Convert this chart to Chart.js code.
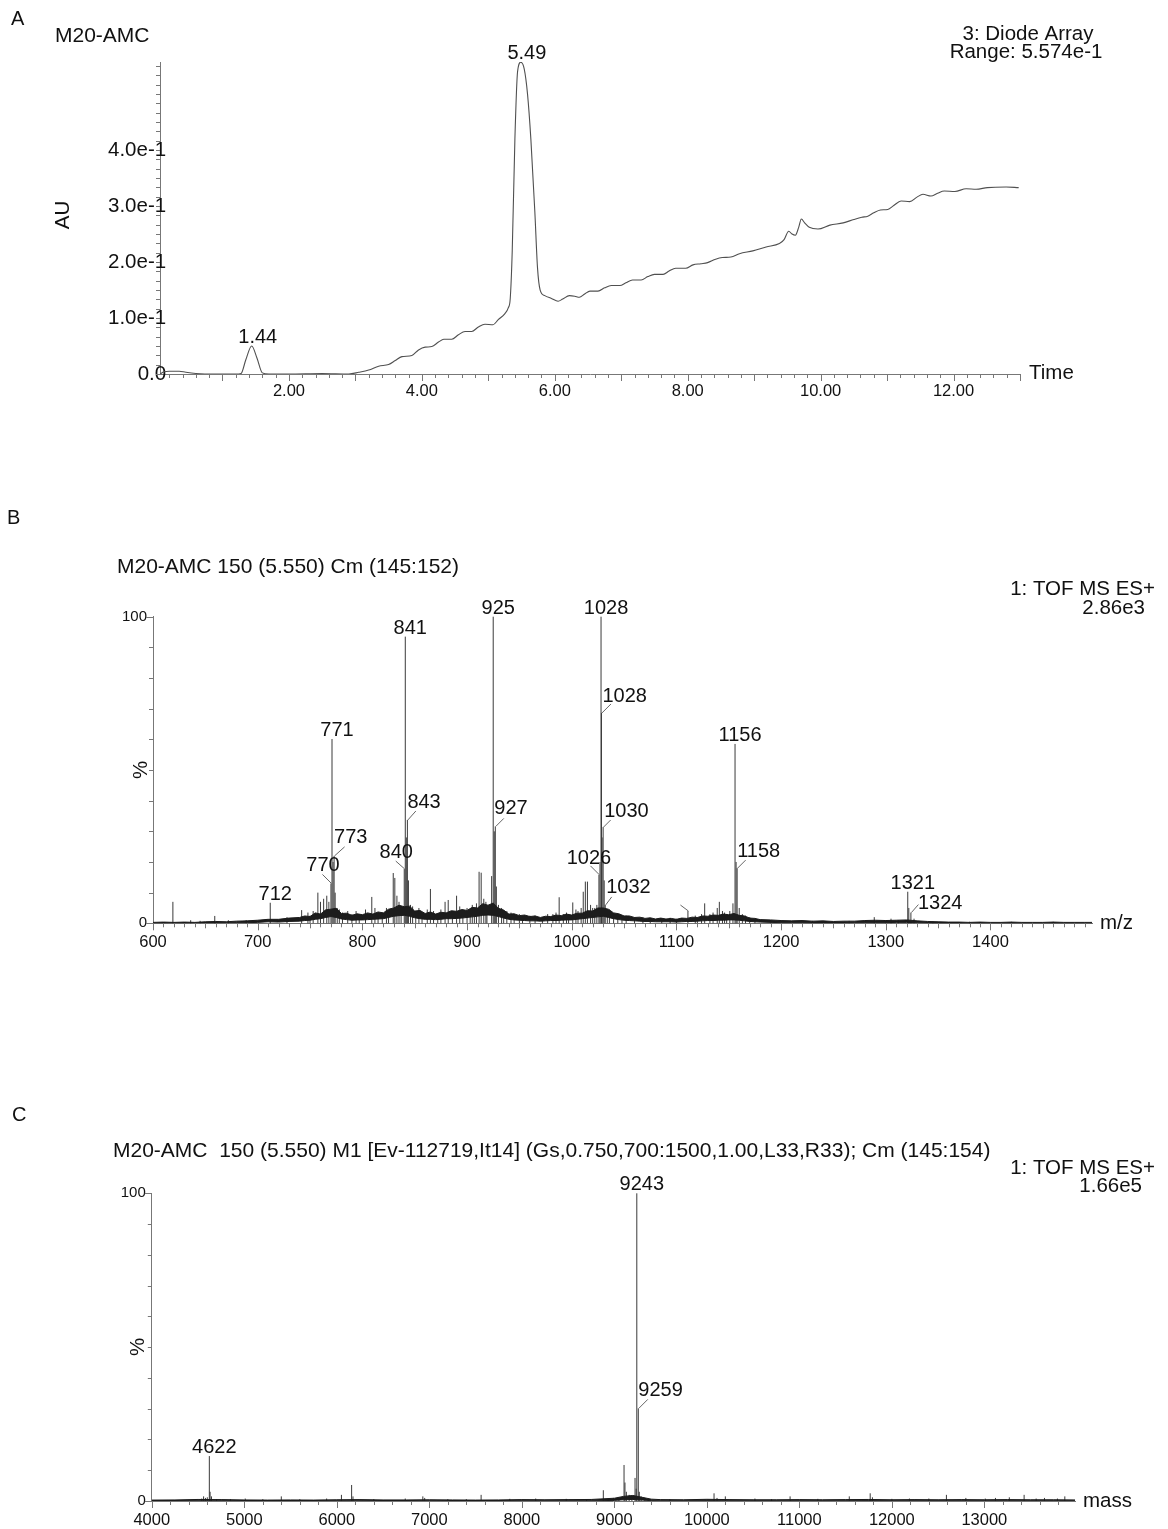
<!DOCTYPE html>
<html>
<head>
<meta charset="utf-8">
<title>M20-AMC LC-MS</title>
<script src="https://cdn.jsdelivr.net/npm/chart.js@4.4.1/dist/chart.umd.min.js"></script>
<style>
  html, body { margin: 0; padding: 0; background: #fff; }
  #page { position: relative; width: 1168px; height: 1529px; overflow: hidden; background: #fff; }
  #page canvas { position: absolute; left: 0; display: block; }
</style>
</head>
<body>
<div id="page">
  <canvas id="chartA" width="1168" height="430" style="top:0px"></canvas>
  <canvas id="chartB" width="1168" height="535" style="top:430px"></canvas>
  <canvas id="chartC" width="1168" height="600" style="top:965px"></canvas>
</div>
<script>
// ---------- Panel A: diode-array chromatogram ----------
const rtMin = [0.06,0.12,0.20,0.35,0.45,0.60,0.90,1.20,1.28,1.35,
  1.44,1.52,1.60,1.70,2.00,2.50,2.90,3.05,3.20,3.35,
  3.50,3.60,3.70,3.85,3.95,4.05,4.15,4.25,4.33,4.45,
  4.55,4.65,4.75,4.85,4.95,5.07,5.15,5.25,5.30,5.33,
  5.36,5.40,5.44,5.49,5.54,5.59,5.64,5.70,5.74,5.78,
  5.85,5.95,6.05,6.12,6.22,6.30,6.37,6.45,6.53,6.65,
  6.75,6.85,6.98,7.07,7.17,7.30,7.40,7.50,7.63,7.72,
  7.82,7.97,8.08,8.20,8.30,8.42,8.52,8.65,8.78,8.98,
  9.18,9.38,9.45,9.52,9.57,9.62,9.67,9.71,9.76,9.83,
  9.96,10.14,10.34,10.50,10.62,10.71,10.80,10.90,11.01,11.10,
  11.21,11.34,11.45,11.54,11.66,11.76,11.86,12.02,12.19,12.34,
  12.51,12.79,12.98];
const absAU = [0.000,0.004,0.005,0.005,0.003,0.001,0.000,0.000,0.001,0.025,
  0.050,0.028,0.002,0.000,0.000,0.001,0.000,0.003,0.007,0.014,
  0.017,0.024,0.031,0.033,0.043,0.048,0.049,0.057,0.062,0.062,
  0.070,0.076,0.076,0.084,0.089,0.088,0.097,0.108,0.118,0.135,
  0.220,0.420,0.540,0.557,0.545,0.500,0.420,0.290,0.190,0.150,
  0.140,0.135,0.130,0.134,0.140,0.139,0.137,0.143,0.148,0.148,
  0.154,0.158,0.158,0.163,0.168,0.168,0.174,0.178,0.178,0.184,
  0.189,0.189,0.195,0.197,0.199,0.205,0.208,0.209,0.215,0.220,
  0.227,0.233,0.240,0.255,0.250,0.248,0.262,0.277,0.270,0.262,
  0.259,0.266,0.270,0.276,0.280,0.282,0.288,0.293,0.294,0.301,
  0.309,0.308,0.316,0.321,0.318,0.323,0.327,0.326,0.331,0.330,
  0.333,0.334,0.333];
const rtLabeled = [1.44, 5.49];
const timeTicks = [2, 4, 6, 8, 10, 12];
const timeTickText = ['2.00', '4.00', '6.00', '8.00', '10.00', '12.00'];
const auTicks = [0, 0.1, 0.2, 0.3, 0.4];
const auTickText = ['0.0', '1.0e-1', '2.0e-1', '3.0e-1', '4.0e-1'];
const auRange = 0.5574;

// ---------- Panel B: ES+ spectrum, scans 145-152 ----------
const mzNoise = [600,610,620,630,640,650,660,670,680,690,700,710,720,730,
  740,745,750,755,760,765,770,775,780,785,790,795,800,805,810,815,820,825,830,835,
  840,845,850,855,860,865,870,875,880,885,890,895,900,905,910,915,920,925,930,935,
  940,945,950,955,960,965,970,975,980,985,990,995,1000,1005,1010,1015,1020,1025,1030,1035,
  1040,1045,1050,1055,1060,1065,1070,1075,1080,1085,1090,1095,1100,1105,1110,1115,1120,1125,
  1130,1135,1140,1145,1150,1155,1160,1165,1170,1175,1180,
  1190,1200,1210,1220,1230,1240,1250,1260,1270,1280,1290,1300,1310,1320,1330,1340,1350,
  1360,1370,1380,1390,1400,1410,1420,1430,1440,1450,1460,1470,1480,1490,1497];
const mzNoiseLow = [0.0,0.0,0.1,0.0,0.1,0.1,0.1,0.2,0.2,0.2,0.3,0.5,0.4,0.6,
  0.7,0.9,1.0,1.3,1.5,1.9,2.2,1.9,1.4,1.2,1.0,1.1,1.1,1.2,1.3,1.4,1.5,1.9,2.3,2.5,
  2.6,2.3,1.8,1.5,1.3,1.3,1.2,1.3,1.5,1.5,1.6,1.7,1.9,2.1,2.3,2.6,2.7,2.6,2.2,1.7,
  1.3,1.1,1.0,0.9,0.8,0.8,0.7,0.8,0.9,0.9,1.0,1.1,1.1,1.3,1.5,1.7,1.9,2.1,2.3,1.9,
  1.5,1.2,1.0,0.9,0.8,0.7,0.6,0.6,0.5,0.5,0.5,0.5,0.4,0.5,0.6,0.6,0.7,0.8,
  0.9,0.9,1.0,1.0,1.1,1.1,1.0,0.8,0.6,0.5,0.4,
  0.3,0.2,0.2,0.2,0.1,0.1,0.1,0.1,0.2,0.2,0.2,0.2,0.3,0.3,0.2,0.1,0.0,
  0.0,0.0,0.0,0.0,0.0,0.0,0.0,0.0,0.0,0.0,0.0,0.0,0.0,0.0,0.0];
const mzNoiseHigh = [0.3,0.4,0.3,0.4,0.3,0.5,0.6,0.5,0.7,0.8,1.0,1.3,1.3,1.7,
  1.9,2.4,2.2,3.4,3.0,4.4,4.6,4.9,3.2,3.3,2.6,3.1,2.8,3.4,3.0,3.7,3.4,4.6,5.0,5.9,
  5.4,5.6,4.0,4.2,3.2,3.7,3.0,3.6,3.4,4.1,3.9,4.5,4.2,5.2,5.0,6.4,5.9,6.6,4.9,4.3,
  3.0,3.1,2.5,2.7,2.2,2.4,1.9,2.3,2.2,2.7,2.5,3.0,2.7,3.3,3.3,4.1,4.0,5.0,5.0,4.6,
  3.4,3.1,2.4,2.4,1.9,2.0,1.6,1.8,1.4,1.7,1.4,1.6,1.3,1.7,1.6,2.0,1.9,2.4,
  2.3,2.7,2.6,3.0,2.8,3.2,2.6,2.4,1.7,1.6,1.2,
  1.1,0.9,0.8,0.9,0.7,0.8,0.6,0.7,0.7,0.9,1.0,0.9,1.0,1.1,0.8,0.6,0.5,
  0.4,0.4,0.3,0.4,0.3,0.3,0.4,0.3,0.3,0.3,0.4,0.3,0.3,0.3,0.3];
const mzPeaks = [619,636,645,659,672,689,712,728,742,748,750,753,
  757.5,760,763,766,768,770,771,772,773,774,776,778,781,786,790,794,797,803,
  809,812,815,819,823,825,829.5,831,833,835,837,840,841,842,843,844,846,848,851,854,
  857,862,865,868,872,875,879,882,886,890,893,896,900,903,905,907,909,911.5,913.5,916,
  918,919,923.5,925,926,927,928,930,933,935,938,942,945,950,953,960,965,972,977,982,
  985,988,992,995,997,1001,1004,1006,1009,1011,1013,1015,1018,1020,1022,1024,1026,1027,
  1028,1028.4,1029,1030,1031,1032,1034,1036,1040,1044,1048,1052,1060,1068,1075,1086,1094,1100,
  1111,1118,1120,1124,1127,1132,1135,1139,1141,1144,1146,1148,1151,1154,1156,1157,1158,1160,
  1163,1166,1170,1175,1190,1230,1265,1289,1300,1305,1312,1321,1322,1324,1327,1345,1380,1420,1460];
const mzPeakPct = [7,1,0.8,2.4,1,1,6.7,2,4.3,3.5,2.5,4,
  10,7,8,9,7,13,60.1,20,22,10,5,4.5,3.5,4,3,4,3,4.5,
  8.6,5,3,3.5,5,4,16.4,14.8,9,7,5,17.7,93.5,28,33.7,14,6,5.5,4,5,
  3,4.5,11.2,4,3,4.5,7,7.6,4,9,5.5,4,5,4,6,5,6.5,16.8,16.5,8,
  7,5,15.4,100,30,31.6,12,6,5,4,4,3.5,3,3,2.5,2.5,2.5,2,3,3,
  3.5,8.5,3,3.5,3,6.8,4.5,4,5,10.3,13.6,13.6,6,5,5,6,15.8,20,
  100,68.6,28,31.4,14,6,4,4.5,3,3,2,2.5,2,2,1.5,1.5,1.8,1.5,
  4,2.5,2,3,6.5,3,3.5,5,7,4,3.5,3,4,6.5,58.5,20,18,5,
  3,2.5,2,1.5,1,0.8,0.8,2,1,1.5,1,10.3,5,3.5,1.5,0.6,0.5,0.5,0.5];
const mzLabeled = [712,770,771,773,840,841,843,925,927,1026,1028,1028.4,1030,1032,1111,1156,1158,1321,1324];
const mzTicks = [600,700,800,900,1000,1100,1200,1300,1400];
const mzTickText = ['600','700','800','900','1000','1100','1200','1300','1400'];
const pctTicks = [0, 100];
const pctTickText = ['0', '100'];

// ---------- Panel C: deconvoluted (MaxEnt M1) mass spectrum ----------
const massNoise = [4000,4250,4500,4750,5000,5250,5500,5750,6000,6250,
  6500,6750,7000,7250,7500,7750,8000,8250,8500,8750,
  9000,9100,9200,9300,9400,9500,9750,10000,10250,10500,
  10750,11000,11250,11500,11750,12000,12250,12500,12750,13000,
  13250,13500,13750,13980];
const massNoiseLow = [0,0,0.05,0.05,0,0,0,0,0.05,0.05,
  0,0,0.05,0,0,0,0.05,0.05,0.05,0.05,
  0.2,0.4,0.5,0.3,0.1,0.05,0.05,0.1,0.05,0.05,
  0.05,0.05,0.05,0.05,0.1,0.05,0.05,0.05,0.05,0.05,
  0.05,0.05,0.05,0.05];
const massNoiseHigh = [0.3,0.35,0.5,0.45,0.35,0.3,0.35,0.3,0.4,0.45,
  0.35,0.35,0.4,0.35,0.3,0.35,0.45,0.4,0.45,0.5,
  0.9,1.5,1.8,1.2,0.6,0.45,0.4,0.55,0.45,0.4,
  0.4,0.45,0.4,0.45,0.5,0.4,0.45,0.4,0.45,0.4,
  0.45,0.4,0.4,0.35];
const massPeaks = [4540,4560,4580,4600,4622,4630,4645,4700,4850,5010,
  5200,5400,5600,5890,6050,6160,6175,6400,6740,6930,
  6950,7200,7400,7560,7870,8150,8480,8700,8881,8990,
  9050,9105,9115,9130,9160,9190,9224,9236,9243,9259,
  9270,9290,9330,9600,10078,10110,10200,10520,10700,10900,
  11200,11540,11766,11790,12000,12190,12400,12590,12800,13010,
  13120,13270,13430,13560,13650,13790,13870];
const massPeakPct = [0.8,1.5,1,1.2,14.6,3,1.5,0.6,0.6,0.8,
  0.6,1.5,0.6,0.8,2,5.2,1.5,0.6,0.8,1.5,
  1,0.6,0.6,2,0.7,0.8,0.7,0.6,3.5,1,
  1.2,11.7,6,3,2,1.5,7.5,4,100,30.1,
  3,1.5,1,0.6,2.5,1,1.5,0.8,0.6,1.5,
  0.7,1.5,2.5,1.2,0.7,0.8,0.8,2,1,0.8,
  1,1.2,2,0.8,1,0.8,1.5];
const massLabeled = [4622, 9243, 9259];
const massTicks = [4000,5000,6000,7000,8000,9000,10000,11000,12000,13000];
const massTickText = ['4000','5000','6000','7000','8000','9000','10000','11000','12000','13000'];

// ---------- drawing setup ----------
const FONT = '"Liberation Sans", Arial, Helvetica, sans-serif';
const INK = '#111';
const AXIS = '#777';
const LEADER = '#666';
Chart.defaults.font.family = FONT;
Chart.defaults.color = INK;

function writeText(ctx, s, x, cy, size, align, rotate) {
  ctx.save();
  ctx.font = size + 'px ' + FONT;
  ctx.fillStyle = INK;
  ctx.textBaseline = 'alphabetic';
  if (rotate) {
    ctx.translate(x, cy);
    ctx.rotate(-Math.PI / 2);
    ctx.textAlign = 'center';
    ctx.fillText(s, 0, 0.36 * size);
  } else {
    ctx.textAlign = align || 'left';
    ctx.fillText(s, x, cy + 0.36 * size);
  }
  ctx.restore();
}

// tick marks, peak annotations and panel captions
function panelDecor(cfg) {
  return {
    id: 'panelDecor',
    afterDraw(chart) {
      const ctx = chart.ctx, area = chart.chartArea;
      const xs = chart.scales.x, ys = chart.scales.y;
      ctx.save();
      ctx.strokeStyle = AXIS;
      ctx.lineWidth = 1;
      cfg.ticks.forEach(t => {
        const sc = t.axis === 'x' ? xs : ys;
        const k0 = Math.ceil(sc.min / t.step - 1e-6), k1 = Math.floor(sc.max / t.step + 1e-6);
        for (let k = k0; k <= k1; k++) {
          const p = Math.round(sc.getPixelForValue(k * t.step)) + 0.5;
          ctx.beginPath();
          if (t.axis === 'x') { ctx.moveTo(p, area.bottom); ctx.lineTo(p, area.bottom + t.len); }
          else { ctx.moveTo(area.left, p); ctx.lineTo(area.left - t.len, p); }
          ctx.stroke();
        }
      });
      ctx.restore();

      cfg.labels.forEach(l => {
        const px = xs.getPixelForValue(l.x), py = ys.getPixelForValue(l.y);
        const p = l.place;
        if (p.lead) {
          ctx.save();
          ctx.strokeStyle = LEADER; ctx.lineWidth = 1;
          ctx.beginPath();
          ctx.moveTo(px + 0.5, py);
          ctx.lineTo(px + 0.5 + p.lead[0], py + p.lead[1]);
          ctx.stroke();
          ctx.restore();
        }
        if (!p.noText) {
          ctx.save();
          ctx.font = cfg.labelSize + 'px ' + FONT;
          ctx.fillStyle = INK;
          ctx.textAlign = p.align;
          ctx.textBaseline = 'alphabetic';
          ctx.fillText(l.text, px + p.dx, py + p.dy);
          ctx.restore();
        }
      });

      cfg.texts.forEach(t => writeText(ctx, t.s, t.x, t.y - cfg.top, t.size, t.align, t.rot));
    }
  };
}

const Y_W = 50, X_H = 40;
function frameLayout(area, top, height) {
  return {
    autoPadding: false,
    padding: {
      left: area.left - Y_W,
      right: 1168 - area.right,
      top: area.top - top,
      bottom: top + height - area.bottom - X_H
    }
  };
}

function xAxis(min, max, ticks, text, pad) {
  return {
    type: 'linear', min, max, bounds: 'data',
    grid: { display: false, drawTicks: false },
    border: { display: true, color: AXIS, width: 1 },
    afterBuildTicks: s => { s.ticks = ticks.map(v => ({ value: v })); },
    afterFit: s => { s.height = X_H; },
    ticks: { autoSkip: false, maxRotation: 0, minRotation: 0, padding: pad,
      font: { size: 16.5 }, color: INK, callback: (v, i) => text[i] }
  };
}

// labels right-aligned; `mirror` lets them run up to / over the axis line
function yAxis(min, max, ticks, text, pad, size, mirror) {
  return {
    type: 'linear', min, max, bounds: 'data',
    grid: { display: false, drawTicks: false },
    border: { display: true, color: AXIS, width: 1 },
    afterBuildTicks: s => { s.ticks = ticks.map(v => ({ value: v })); },
    afterFit: s => { s.width = Y_W; },
    ticks: { autoSkip: false, padding: pad, mirror: !!mirror, crossAlign: mirror ? 'far' : 'near',
      font: { size }, color: INK, callback: (v, i) => text[i] }
  };
}

function pairs(xs, ys) { return xs.map((x, i) => ({ x, y: ys[i] })); }
function sticks(xs, ys) {
  const pts = [];
  xs.forEach((x, i) => { pts.push({ x, y: 0 }, { x, y: ys[i] }, { x, y: null }); });
  return pts;
}
function bandSets(xs, lo, hi) {
  return [
    { data: pairs(xs, lo), borderColor: '#1c1c1c', borderWidth: 1, pointRadius: 0, fill: false, tension: 0 },
    { data: pairs(xs, hi), borderColor: '#1c1c1c', borderWidth: 1, pointRadius: 0, fill: '-1',
      backgroundColor: '#1c1c1c', tension: 0 }
  ];
}
function stickSet(xs, ys) {
  return { data: sticks(xs, ys), borderColor: '#3a3a3a', borderWidth: 1, pointRadius: 0,
    fill: false, tension: 0, spanGaps: false, clip: false };
}

const baseOptions = {
  responsive: false, animation: false, devicePixelRatio: 1, events: [],
  parsing: true, normalized: false,
  plugins: { legend: { display: false }, tooltip: { enabled: false } }
};

const CENTERED = { dx: 5, dy: -3, align: 'center' };

// ----- A -----
const topA = 0, hA = 430;
const areaA = { left: 160, right: 1020, top: 62, bottom: 374 };
new Chart(document.getElementById('chartA'), {
  type: 'line',
  data: { datasets: [{
    data: pairs(rtMin, absAU), borderColor: '#505050', borderWidth: 1.1, pointRadius: 0,
    fill: false, cubicInterpolationMode: 'monotone'
  }] },
  options: Object.assign({}, baseOptions, {
    layout: frameLayout(areaA, topA, hA),
    scales: {
      x: xAxis(0.06, 13.0, timeTicks, timeTickText, 7.6),
      y: yAxis(0, auRange, auTicks, auTickText, -52, 20.5, true)
    }
  }),
  plugins: [panelDecor({
    top: topA, labelSize: 20,
    ticks: [
      { axis: 'x', step: 0.2, len: 4 }, { axis: 'x', step: 1, len: 7 },
      { axis: 'y', step: 1 / 60, len: 4 }
    ],
    labels: rtLabeled.map(t => ({ x: t, y: absAU[rtMin.indexOf(t)], text: t.toFixed(2),
      place: { dx: 6, dy: -3, align: 'center' } })),
    texts: [
      { s: 'A', x: 11, y: 18, size: 20 },
      { s: 'M20-AMC', x: 55, y: 34, size: 21 },
      { s: '3: Diode Array', x: 1028, y: 33, size: 20.5, align: 'center' },
      { s: 'Range: 5.574e-1', x: 1026, y: 51, size: 20.5, align: 'center' },
      { s: 'AU', x: 62, y: 215, size: 20.5, rot: true },
      { s: 'Time', x: 1029, y: 372, size: 20.5 }
    ]
  })]
});

// ----- B -----
const topB = 430, hB = 535;
const areaB = { left: 153, right: 1092, top: 616.7, bottom: 923.3 };
const mzLabelPlacement = {
  '770': { lead: [-9, -9], dx: -8, dy: -12, align: 'center' },
  '773': { lead: [10, -9], dx: 0, dy: -13, align: 'left' },
  '840': { lead: [-9, -8], dx: -8, dy: -11, align: 'center' },
  '843': { lead: [8, -9], dx: 0, dy: -12, align: 'left' },
  '927': { lead: [8, -8], dx: -1, dy: -12, align: 'left' },
  '1026': { lead: [-9, -9], dx: -10, dy: -11, align: 'center' },
  '1028.4': { lead: [9, -9], dx: 1, dy: -11, align: 'left' },
  '1030': { lead: [7, -7], dx: 1, dy: -10, align: 'left' },
  '1032': { lead: [6, -8], dx: 1, dy: -12, align: 'left' },
  '1111': { lead: [-8, -6], noText: true },
  '1158': { lead: [8, -8], dx: 0, dy: -11, align: 'left' },
  '1324': { lead: [7, -8], dx: 7, dy: -4, align: 'left' }
};
new Chart(document.getElementById('chartB'), {
  type: 'line',
  data: { datasets: bandSets(mzNoise, mzNoiseLow, mzNoiseHigh).concat([stickSet(mzPeaks, mzPeakPct)]) },
  options: Object.assign({}, baseOptions, {
    layout: frameLayout(areaB, topB, hB),
    scales: {
      x: xAxis(600, 1497, mzTicks, mzTickText, 9.3),
      y: yAxis(0, 100, pctTicks, pctTickText, 6, 15)
    }
  }),
  plugins: [panelDecor({
    top: topB, labelSize: 20,
    ticks: [
      { axis: 'x', step: 10, len: 4 }, { axis: 'x', step: 50, len: 5 }, { axis: 'x', step: 100, len: 7 },
      { axis: 'y', step: 10, len: 4 }, { axis: 'y', step: 100, len: 7 }
    ],
    labels: mzLabeled.map(m => ({ x: m, y: mzPeakPct[mzPeaks.indexOf(m)], text: String(Math.round(m)),
      place: mzLabelPlacement[String(m)] || CENTERED })),
    texts: [
      { s: 'B', x: 7, y: 517, size: 20 },
      { s: 'M20-AMC 150 (5.550) Cm (145:152)', x: 117, y: 565, size: 21 },
      { s: '1: TOF MS ES+', x: 1155, y: 588, size: 20.5, align: 'right' },
      { s: '2.86e3', x: 1145, y: 607, size: 20.5, align: 'right' },
      { s: '%', x: 140, y: 770, size: 20.5, rot: true },
      { s: 'm/z', x: 1100, y: 922, size: 20.5 }
    ]
  })]
});

// ----- C -----
const topC = 965, hC = 600;
const areaC = { left: 151.8, right: 1075, top: 1193.3, bottom: 1501 };
const massLabelPlacement = {
  '9259': { lead: [9, -9], dx: 0, dy: -12, align: 'left' }
};
new Chart(document.getElementById('chartC'), {
  type: 'line',
  data: { datasets: bandSets(massNoise, massNoiseLow, massNoiseHigh).concat([stickSet(massPeaks, massPeakPct)]) },
  options: Object.assign({}, baseOptions, {
    layout: frameLayout(areaC, topC, hC),
    scales: {
      x: xAxis(4000, 13980, massTicks, massTickText, 10),
      y: yAxis(0, 100, pctTicks, pctTickText, 6, 15)
    }
  }),
  plugins: [panelDecor({
    top: topC, labelSize: 20,
    ticks: [
      { axis: 'x', step: 200, len: 4 }, { axis: 'x', step: 1000, len: 7 },
      { axis: 'y', step: 10, len: 4 }, { axis: 'y', step: 100, len: 7 }
    ],
    labels: massLabeled.map(m => ({ x: m, y: massPeakPct[massPeaks.indexOf(m)], text: String(m),
      place: massLabelPlacement[String(m)] || CENTERED })),
    texts: [
      { s: 'C', x: 12, y: 1114, size: 20 },
      { s: 'M20-AMC  150 (5.550) M1 [Ev-112719,It14] (Gs,0.750,700:1500,1.00,L33,R33); Cm (145:154)', x: 113, y: 1149, size: 21 },
      { s: '1: TOF MS ES+', x: 1155, y: 1167, size: 20.5, align: 'right' },
      { s: '1.66e5', x: 1142, y: 1185, size: 20.5, align: 'right' },
      { s: '%', x: 137, y: 1347, size: 20.5, rot: true },
      { s: 'mass', x: 1083, y: 1500, size: 20.5 }
    ]
  })]
});
</script>
</body>
</html>
